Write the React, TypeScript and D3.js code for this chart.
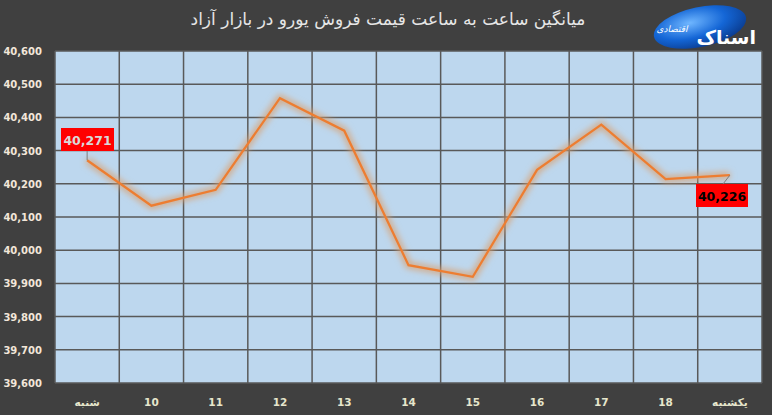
import * as d3 from 'd3';

const categories = ['شنبه', '10', '11', '12', '13', '14', '15', '16', '17', '18', 'یکشنبه'];
const values = [40271, 40134, 40182, 40458, 40360, 39955, 39920, 40242, 40378, 40214, 40226];
const yTicks = [39600, 39700, 39800, 39900, 40000, 40100, 40200, 40300, 40400, 40500, 40600];
const title = 'میانگین ساعت به ساعت قیمت فروش یورو در بازار آزاد';

const width = 772;
const height = 415;
const margin = { top: 51, right: 10, bottom: 32, left: 55 };

export default function App() {
  const x = d3
    .scaleBand()
    .domain(categories)
    .range([margin.left, width - margin.right]);
  const y = d3
    .scaleLinear()
    .domain([39600, 40600])
    .range([height - margin.bottom, margin.top]);

  const cx = (c: string) => (x(c) ?? 0) + x.bandwidth() / 2;
  const pts = values.map((v, i) => [cx(categories[i]), y(v)] as [number, number]);
  const path = d3.line()(pts) ?? '';
  const fmt = d3.format(',');

  const first = pts[0];
  const last = pts[pts.length - 1];

  return (
    <svg
      width={width}
      height={height}
      style={{ position: 'fixed', left: 0, top: 0, display: 'block' }}
    >
      <defs>
        <filter id="glow" x="-10%" y="-20%" width="120%" height="140%">
          <feGaussianBlur stdDeviation="3" />
        </filter>
        <radialGradient id="logo" cx="40%" cy="35%" r="70%">
          <stop offset="0%" stopColor="#6fb6ff" />
          <stop offset="55%" stopColor="#1466d6" />
          <stop offset="100%" stopColor="#0a3a8c" />
        </radialGradient>
      </defs>
      <rect width={width} height={height} fill="#404040" />

      <text
        x={388}
        y={25}
        textAnchor="middle"
        fill="#e6e6e6"
        fontFamily="DejaVu Sans"
        fontSize={17}
        direction="rtl"
      >
        {title}
      </text>

      {/* logo */}
      <g>
        <ellipse cx={700} cy={27} rx={47} ry={20} fill="url(#logo)" transform="rotate(-12 700 27)" />
        <text x={672} y={32} fill="#fff" fontFamily="DejaVu Sans" fontSize={9} textAnchor="middle" fontStyle="italic" direction="rtl">
          اقتصادی
        </text>
        <text x={756} y={44} fill="#ffffff" fontFamily="DejaVu Sans" fontWeight="bold" fontSize={19} textAnchor="start" direction="rtl">
          اسناک
        </text>
      </g>

      <rect
        x={margin.left}
        y={margin.top}
        width={width - margin.left - margin.right}
        height={height - margin.top - margin.bottom}
        fill="#bdd7ee"
      />

      {yTicks.map((t) => (
        <g key={t}>
          <line
            x1={margin.left}
            x2={width - margin.right}
            y1={y(t)}
            y2={y(t)}
            stroke="#595959"
            strokeWidth={1.5}
          />
          <text
            x={42}
            y={y(t) + 4}
            textAnchor="end"
            fill="#f2e6d9"
            fontFamily="DejaVu Sans"
            fontWeight="bold"
            fontSize={10}
          >
            {fmt(t)}
          </text>
        </g>
      ))}

      {categories.map((c) => (
        <g key={c}>
          <line
            x1={x(c)}
            x2={x(c)}
            y1={margin.top}
            y2={height - margin.bottom}
            stroke="#595959"
            strokeWidth={1.5}
          />
          <text
            x={cx(c)}
            y={406}
            textAnchor="middle"
            fill="#e6e6cc"
            fontFamily="DejaVu Sans"
            fontWeight="bold"
            fontSize={10.5}
            direction="rtl"
          >
            {c}
          </text>
        </g>
      ))}
      <line
        x1={width - margin.right}
        x2={width - margin.right}
        y1={margin.top}
        y2={height - margin.bottom}
        stroke="#595959"
        strokeWidth={1.5}
      />

      <path d={path} fill="none" stroke="#d9a070" strokeOpacity={0.8} strokeWidth={7} filter="url(#glow)" />
      <path d={path} fill="none" stroke="#ed7d31" strokeWidth={2.25} strokeLinejoin="miter" />

      {/* data labels */}
      <line x1={first[0]} x2={first[0]} y1={151} y2={first[1]} stroke="#7f7f7f" strokeWidth={1} />
      <rect x={61} y={128} width={53} height={23} fill="#ff0000" />
      <text
        x={87.5}
        y={144.5}
        textAnchor="middle"
        fill="#d9d9d9"
        fontFamily="DejaVu Sans"
        fontWeight="bold"
        fontSize={12.5}
      >
        {fmt(values[0])}
      </text>

      <line x1={last[0]} x2={723} y1={last[1]} y2={184} stroke="#7f7f7f" strokeWidth={1} />
      <rect x={696} y={184} width={52} height={23} fill="#ff0000" />
      <text
        x={722}
        y={200.5}
        textAnchor="middle"
        fill="#000"
        fontFamily="DejaVu Sans"
        fontWeight="bold"
        fontSize={12.5}
      >
        {fmt(values[values.length - 1])}
      </text>
    </svg>
  );
}
